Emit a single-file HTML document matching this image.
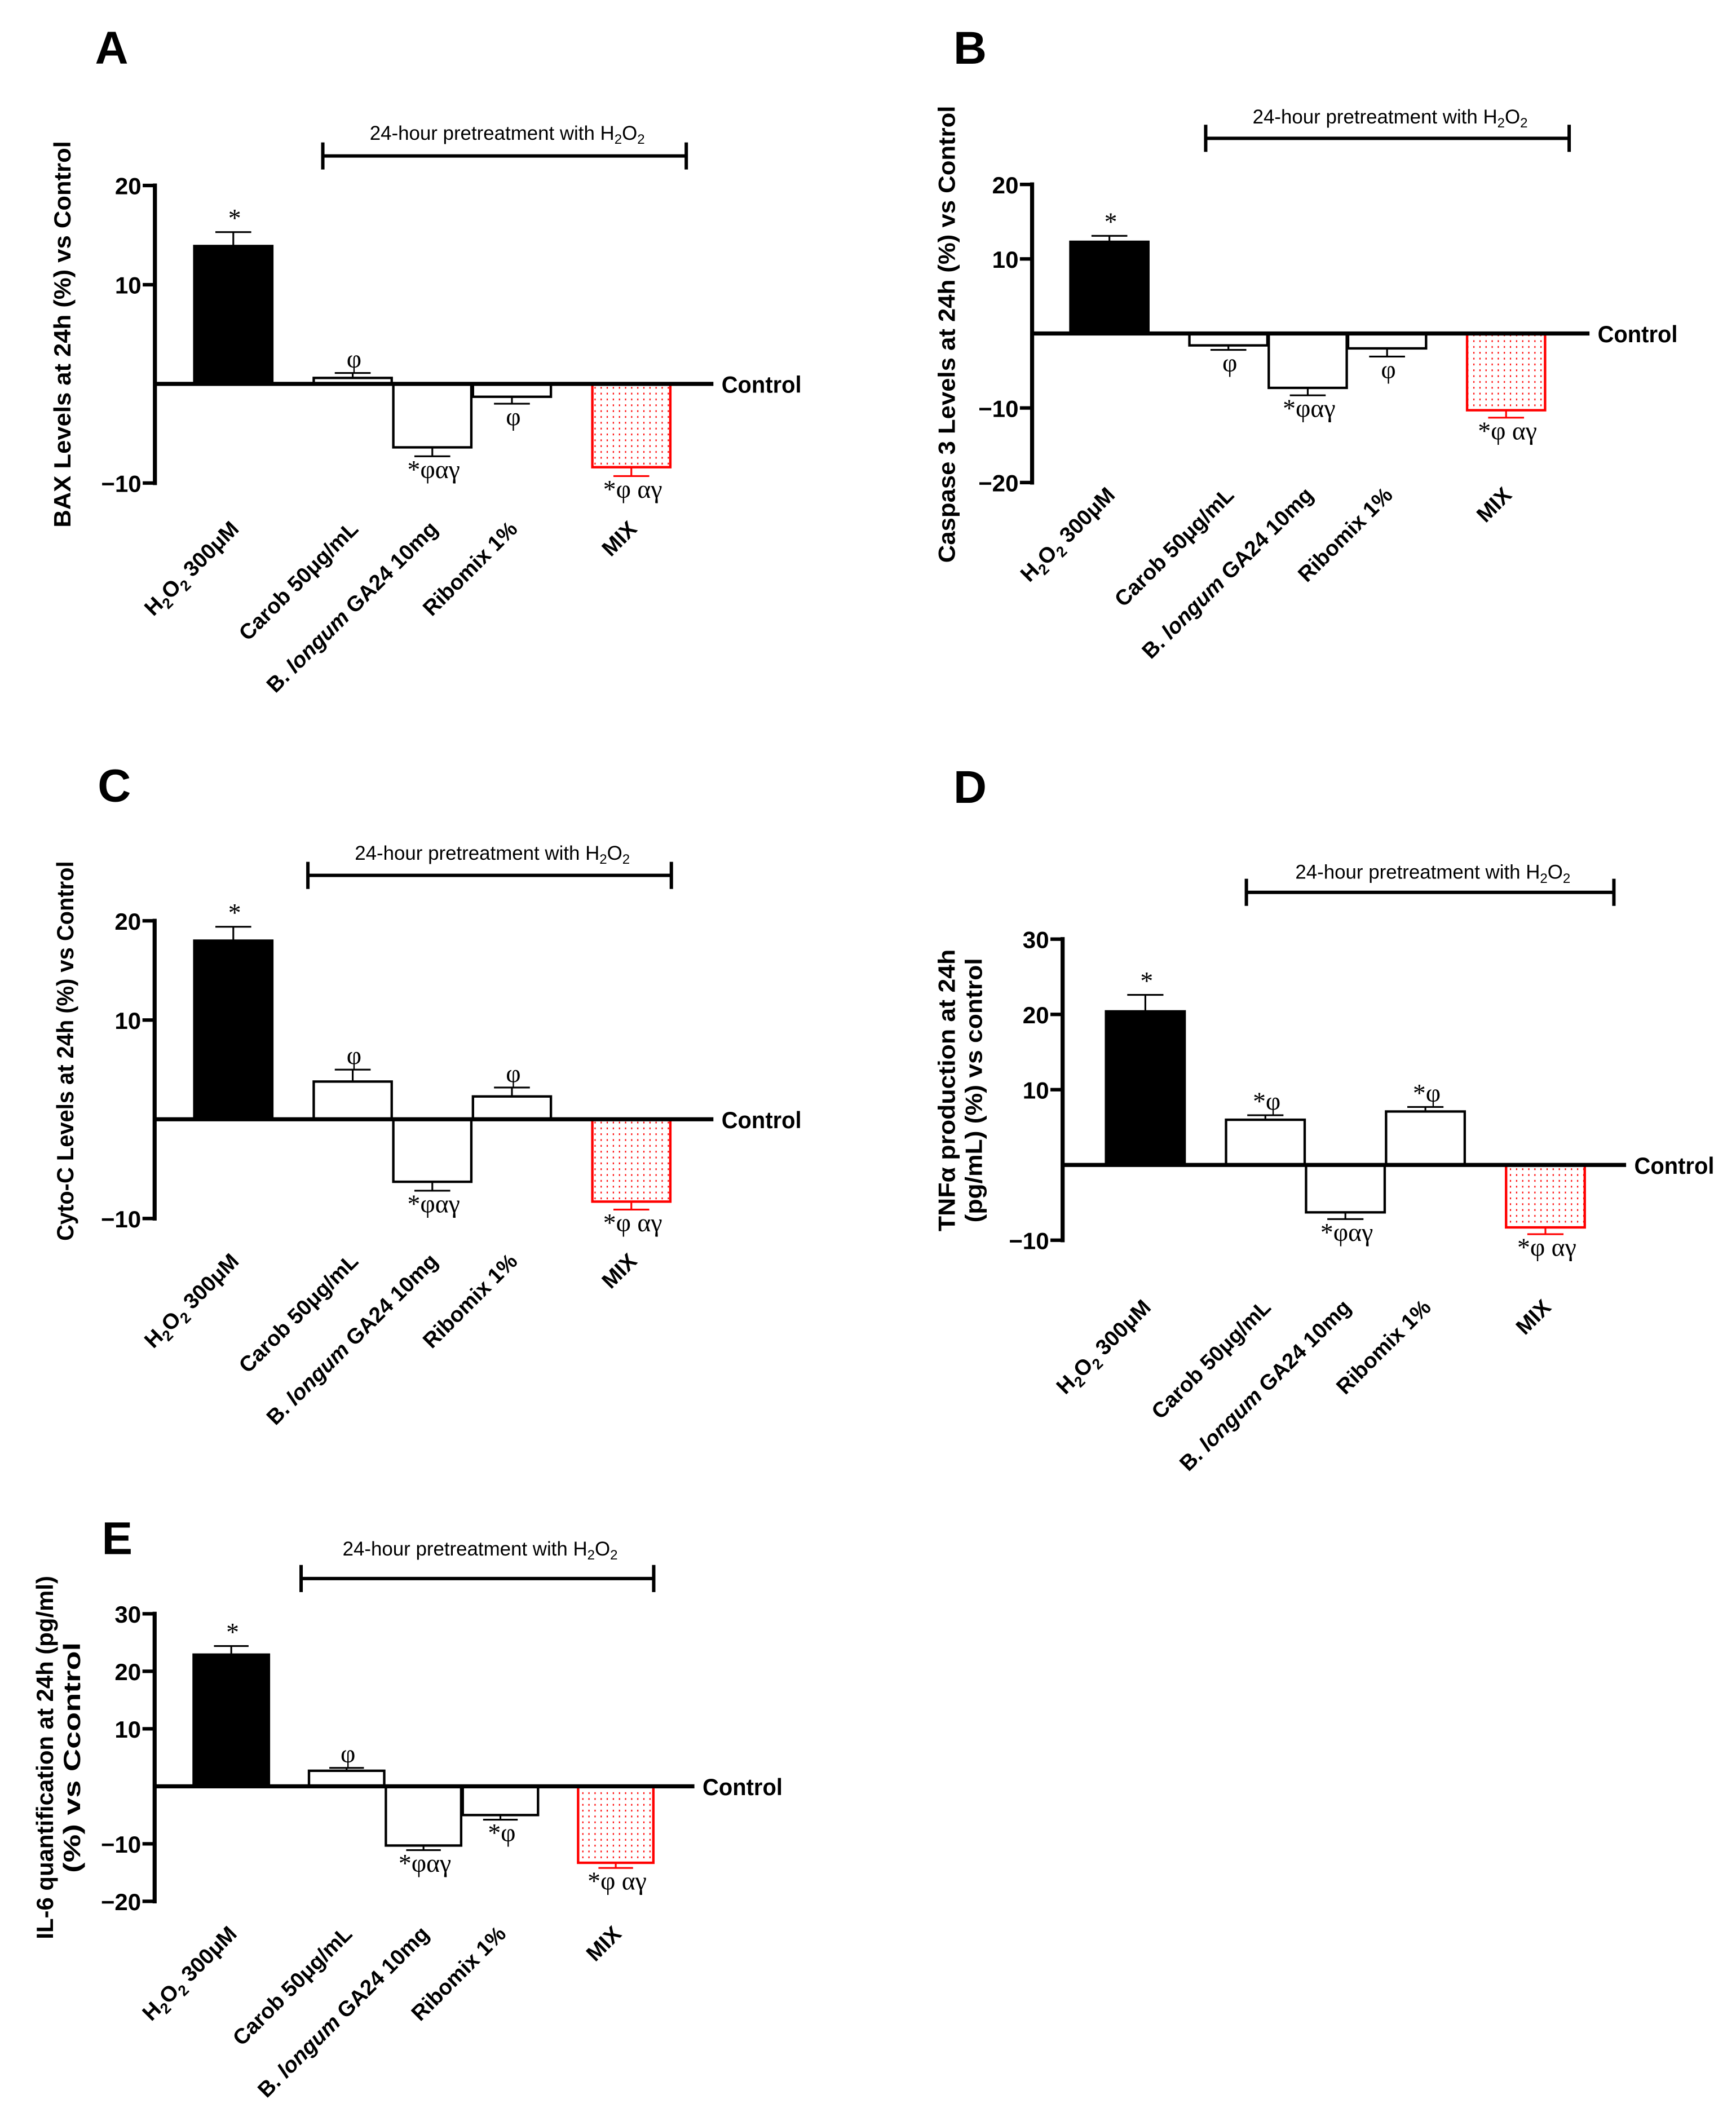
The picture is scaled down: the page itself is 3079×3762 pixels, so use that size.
<!DOCTYPE html>
<html>
<head>
<meta charset="utf-8">
<style>
html,body{margin:0;padding:0;background:#fff;}
svg{display:block;}
text{font-family:"Liberation Sans",Arial,sans-serif;}
.serif{font-family:"Liberation Serif","DejaVu Serif",serif;}
</style>
</head>
<body>
<svg id="fig" xmlns="http://www.w3.org/2000/svg" width="3079" height="3762" viewBox="0 0 1280 1564">
<defs>
<pattern id="dots" patternUnits="userSpaceOnUse" width="4.5" height="4.3">
<rect x="0" y="0" width="4.5" height="4.3" fill="#fff"/>
<rect x="1.8" y="1.5" width="0.9" height="1.3" fill="#f00"/>
</pattern>
</defs>
</svg>
<script>
// ---- data ----
const categories = ["H2O2 300μM", "Carob 50μg/mL", "B. longum GA24 10mg", "Ribomix 1%", "MIX"];
const baxValues = [13.9, 0.6, -6.4, -1.3, -8.4];
const baxErrors = [1.4, 0.5, 0.9, 0.7, 0.9];
const baxTicks = [20, 10, -10];
const baxAnnots = ["*", "φ", "*φαγ", "φ", "*φ αγ"];
const casp3Values = [12.3, -1.6, -7.3, -2.0, -10.3];
const casp3Errors = [0.8, 0.6, 1.0, 1.1, 1.0];
const casp3Ticks = [20, 10, -10, -20];
const casp3Annots = ["*", "φ", "*φαγ", "φ", "*φ αγ"];
const cytoValues = [18.0, 3.8, -6.3, 2.3, -8.3];
const cytoErrors = [1.4, 1.2, 0.9, 0.9, 0.8];
const cytoTicks = [20, 10, -10];
const cytoAnnots = ["*", "φ", "*φαγ", "φ", "*φ αγ"];
const tnfValues = [20.4, 6.0, -6.3, 7.1, -8.3];
const tnfErrors = [2.2, 0.6, 0.9, 0.6, 0.9];
const tnfTicks = [30, 20, 10, -10];
const tnfAnnots = ["*", "*φ", "*φαγ", "*φ", "*φ αγ"];
const il6Values = [22.9, 2.7, -10.3, -5.0, -13.3];
const il6Errors = [1.5, 0.5, 0.8, 0.8, 0.9];
const il6Ticks = [30, 20, 10, -10, -20];
const il6Annots = ["*", "φ", "*φαγ", "*φ", "*φ αγ"];

// ---- layout ----
const slotOffsets = [0, 1.5, 2.5, 3.5, 5];
const panels = [
 {key:"a", letter:"A", values:baxValues, errors:baxErrors, ticks:baxTicks, annots:baxAnnots,
  yLabel:["BAX Levels at 24h (%) vs Control"], yLabelX:[52], yLabelCY:246.5, yLabelLen:[285],
  axisX:114.2, yMax:20, yMin:-10, yTopPx:136.8, yBotPx:356.2, x0:172, slot:58.7, barW:57.5,
  ctrlEnd:526, brX1:238, brX2:506, brY:115, brTextY:103, letterX:70, letterY:47, labelTop:383},
 {key:"b", letter:"B", values:casp3Values, errors:casp3Errors, ticks:casp3Ticks, annots:casp3Annots,
  yLabel:["Caspase 3 Levels at 24h (%) vs Control"], yLabelX:[704], yLabelCY:246.5, yLabelLen:[337],
  axisX:761, yMax:20, yMin:-20, yTopPx:136, yBotPx:355.8, x0:818, slot:58.5, barW:57.5,
  ctrlEnd:1172, brX1:889, brX2:1157, brY:102, brTextY:91, letterX:703, letterY:47, labelTop:358},
 {key:"c", letter:"C", values:cytoValues, errors:cytoErrors, ticks:cytoTicks, annots:cytoAnnots,
  yLabel:["Cyto-C Levels at 24h (%) vs Control"], yLabelX:[54], yLabelCY:775, yLabelLen:[280],
  axisX:114, yMax:20, yMin:-10, yTopPx:679, yBotPx:898.5, x0:172, slot:58.7, barW:57.5,
  ctrlEnd:526, brX1:227, brX2:495, brY:645.5, brTextY:634, letterX:72, letterY:591, labelTop:923},
 {key:"d", letter:"D", values:tnfValues, errors:tnfErrors, ticks:tnfTicks, annots:tnfAnnots,
  yLabel:["TNFα production at 24h", "(pg/mL) (%) vs control"], yLabelX:[704, 724], yLabelCY:804, yLabelLen:[208, 195],
  axisX:783.5, yMax:30, yMin:-10, yTopPx:692.5, yBotPx:914.5, x0:844.5, slot:59, barW:58,
  ctrlEnd:1199, brX1:919, brX2:1190, brY:658, brTextY:648, letterX:703, letterY:592, labelTop:957},
 {key:"e", letter:"E", values:il6Values, errors:il6Errors, ticks:il6Ticks, annots:il6Annots,
  yLabel:["IL-6 quantification at 24h (pg/ml)", "(%) vs Ccontrol"], yLabelX:[39, 59], yLabelCY:1296, yLabelLen:[268, 170],
  axisX:114, yMax:30, yMin:-20, yTopPx:1190, yBotPx:1402, x0:170.5, slot:56.7, barW:55.5,
  ctrlEnd:512, brX1:222, brX2:482, brY:1164, brTextY:1147, letterX:75, letterY:1146, labelTop:1419}
];

const NS = "http://www.w3.org/2000/svg";
const svg = document.getElementById("fig");
function mk(tag, attrs, parent) {
  const el = document.createElementNS(NS, tag);
  for (const k in attrs) el.setAttribute(k, attrs[k]);
  parent.appendChild(el);
  return el;
}
function addSub(textEl, str) {
  const t = document.createElementNS(NS, "tspan");
  t.textContent = str;
  textEl.appendChild(t);
  return t;
}
function writeCategory(textEl, i) {
  if (i === 0) {
    addSub(textEl, "H");
    const s1 = addSub(textEl, "2"); s1.setAttribute("font-size", "11"); s1.setAttribute("dy", "4");
    const o = addSub(textEl, "O"); o.setAttribute("dy", "-4");
    const s2 = addSub(textEl, "2"); s2.setAttribute("font-size", "11"); s2.setAttribute("dy", "4");
    const r = addSub(textEl, " 300μM"); r.setAttribute("dy", "-4");
  } else if (i === 2) {
    addSub(textEl, "B. ");
    const it = addSub(textEl, "longum"); it.setAttribute("font-style", "italic");
    addSub(textEl, " GA24 10mg");
  } else {
    addSub(textEl, categories[i]);
  }
}

panels.forEach(p => {
  const g = mk("g", {}, svg);
  
  
  const yS = v => p.yTopPx + (p.yMax - v) / (p.yMax - p.yMin) * (p.yBotPx - p.yTopPx);
  const xC = i => p.x0 + slotOffsets[i] * p.slot;
  const y0 = yS(0);

  const lt = mk("text", {x:p.letterX, y:p.letterY, "font-size":34, "font-weight":"bold"}, g);
  lt.textContent = p.letter;
  
  

  p.yLabel.forEach((s, k) => {
    const t = mk("text", {x:0, y:0, "font-size":17.5, "font-weight":"bold", "text-anchor":"middle",
      textLength:p.yLabelLen[k], lengthAdjust:"spacingAndGlyphs",
      transform:"translate(" + p.yLabelX[k] + "," + p.yLabelCY + ") rotate(-90)"}, g);
    t.textContent = s;
    
    
  });

  const bg = mk("g", {stroke:"#000", "stroke-width":2.5}, g);
  
  
  mk("line", {x1:p.brX1, x2:p.brX2, y1:p.brY, y2:p.brY}, bg);
  mk("line", {x1:p.brX1, x2:p.brX1, y1:p.brY - 10, y2:p.brY + 10}, bg);
  mk("line", {x1:p.brX2, x2:p.brX2, y1:p.brY - 10, y2:p.brY + 10}, bg);
  const bt = mk("text", {x:(p.brX1 + p.brX2) / 2 + 2, y:p.brTextY, "font-size":14.5, "text-anchor":"middle"}, g);
  
  
  addSub(bt, "24-hour pretreatment with H");
  const a1 = addSub(bt, "2"); a1.setAttribute("font-size", "10"); a1.setAttribute("dy", "3");
  const a2 = addSub(bt, "O"); a2.setAttribute("dy", "-3");
  const a3 = addSub(bt, "2"); a3.setAttribute("font-size", "10"); a3.setAttribute("dy", "3");

  p.values.forEach((v, i) => {
    const cx = xC(i), yv = yS(v);
    const isMix = i === 4, isH = i === 0;
    const col = isMix ? "#ff0000" : "#000";
    const r = mk("rect", {x:cx - p.barW / 2, y:Math.min(yv, y0), width:p.barW, height:Math.abs(yv - y0),
      fill: isH ? "#000" : (isMix ? "url(#dots)" : "#fff"), stroke:col, "stroke-width":1.8}, g);
    
    
    const sign = v >= 0 ? 1 : -1;
    const ye = yS(v + sign * p.errors[i]);
    const eg = mk("g", {stroke:col, "stroke-width":1.3}, g);
    
    
    mk("line", {x1:cx, x2:cx, y1:yv, y2:ye}, eg);
    mk("line", {x1:cx - p.barW * 0.23, x2:cx + p.barW * 0.23, y1:ye, y2:ye}, eg);
    const at = mk("text", {x:cx + 1, y: sign > 0 ? ye - 4 : ye + 16, "font-size":19, "text-anchor":"middle", "class":"serif"}, g);
    at.textContent = p.annots[i];
    
    

    const ct = mk("text", {x:0, y:0, "font-size":16, "font-weight":"bold", "text-anchor":"end",
      transform:"translate(" + (cx + 5) + "," + (p.labelTop + 8) + ") rotate(-45)"}, g);
    writeCategory(ct, i);
    
    
  });

  const ax = mk("g", {stroke:"#000"}, g);
  
  
  mk("line", {x1:p.axisX, x2:p.axisX, y1:yS(p.yMax) - 1.5, y2:yS(p.yMin) + 1.5, "stroke-width":3}, ax);
  p.ticks.forEach(t => {
    mk("line", {x1:p.axisX - 9, x2:p.axisX, y1:yS(t), y2:yS(t), "stroke-width":2.6}, ax);
    const tl = mk("text", {x:p.axisX - 10, y:yS(t) + 6.5, "font-size":17.5, "font-weight":"bold", "text-anchor":"end", stroke:"none"}, g);
    tl.textContent = t < 0 ? "\u2212" + Math.abs(t) : String(t);
    
    
  });

  const cl = mk("line", {x1:p.axisX, x2:p.ctrlEnd, y1:y0, y2:y0, stroke:"#000", "stroke-width":3}, g);
  
  
  const ctl = mk("text", {x:p.ctrlEnd + 6, y:y0 + 6.5, "font-size":17.5, "font-weight":"bold", textLength:59, lengthAdjust:"spacingAndGlyphs"}, g);
  ctl.textContent = "Control";
  
  
});
</script>
</body>
</html>
